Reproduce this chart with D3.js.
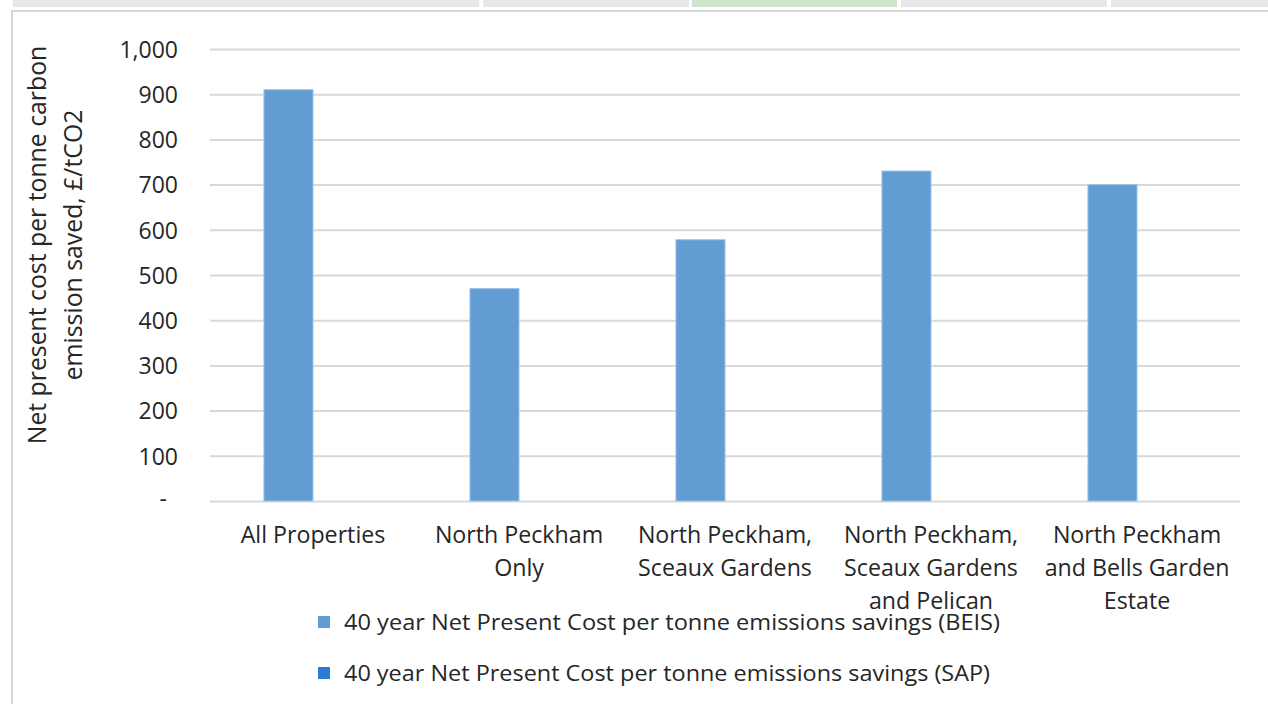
<!DOCTYPE html>
<html>
<head>
<meta charset="utf-8">
<script src="https://cdn.jsdelivr.net/npm/d3@7"></script>
<style>
  html, body { margin: 0; padding: 0; background: #ffffff; }
  svg { display: block; }
  text { font-family: "Open Sans", "Noto Sans", sans-serif; fill: #262626; }
</style>
</head>
<body>
<svg id="chart" width="1268" height="704"></svg>
<script>
// Chart data
const categories = [
  ["All Properties"],
  ["North Peckham", "Only"],
  ["North Peckham,", "Sceaux Gardens"],
  ["North Peckham,", "Sceaux Gardens", "and Pelican"],
  ["North Peckham", "and Bells Garden", "Estate"]
];
const seriesNames = [
  "40 year Net Present Cost per tonne emissions savings (BEIS)",
  "40 year Net Present Cost per tonne emissions savings (SAP)"
];
const beisValues = [910, 470, 578, 730, 700];
const sapValues = [null, null, null, null, null];
const yTicks = [0, 100, 200, 300, 400, 500, 600, 700, 800, 900, 1000];
const yTitle = ["Net present cost per tonne carbon", "emission saved, £/tCO2"];
const seriesColors = ["#619dd2", "#2b7bd3"];

const svg = d3.select("#chart");
const W = 1268, H = 704;

// Tab strip along the top edge
const tabs = [
  { x0: 13, x1: 479, c: "#e7e8ec" },
  { x0: 483, x1: 689, c: "#e7e8ec" },
  { x0: 692, x1: 897, c: "#cfe6cd" },
  { x0: 901, x1: 1107, c: "#e7e8ec" },
  { x0: 1111, x1: 1268, c: "#e7e8ec" }
];
svg.selectAll("rect.tab").data(tabs).join("rect")
  .attr("class", "tab")
  .attr("x", d => d.x0).attr("y", 0)
  .attr("width", d => d.x1 - d.x0).attr("height", 7)
  .attr("fill", d => d.c);

// Outer frame (top and left edges)
svg.append("path")
  .attr("d", `M12,${H} L12,11 L${W},11`)
  .attr("fill", "none")
  .attr("stroke", "#d6d6d6")
  .attr("stroke-width", 2);

// Plot area
const plot = { left: 210, right: 1240, top: 49, bottom: 501 };

const x0 = d3.scaleBand()
  .domain(d3.range(categories.length))
  .range([plot.left, plot.right])
  .paddingInner(0).paddingOuter(0);

const x1 = d3.scaleBand()
  .domain([0, 1])
  .range([0, x0.bandwidth()])
  .paddingInner(0)
  .paddingOuter(1.1);

const y = d3.scaleLinear()
  .domain([0, 1000])
  .range([plot.bottom, plot.top]);

// Gridlines and value labels
const yAxis = d3.axisLeft(y)
  .tickValues(yTicks)
  .tickSize(-(plot.right - plot.left))
  .tickPadding(32)
  .tickFormat(d => d === 0 ? "-" : d3.format(",")(d));

const gy = svg.append("g")
  .attr("transform", `translate(${plot.left},0)`)
  .call(yAxis);
gy.select(".domain").remove();
gy.selectAll(".tick line")
  .attr("stroke", "#d9d9d9")
  .attr("stroke-width", 2);
gy.selectAll(".tick text")
  .attr("font-size", 23)
  .attr("fill", "#262626")
  .attr("dy", "0.36em");
gy.selectAll(".tick text").filter(d => d === 0)
  .attr("dx", -11).attr("dy", "0.25em");

// Bars
const seriesData = [beisValues, sapValues];
seriesData.forEach((vals, si) => {
  svg.append("g").selectAll("rect")
    .data(vals.map((v, i) => ({ v, i })).filter(d => d.v != null))
    .join("rect")
    .attr("x", d => x0(d.i) + x1(si))
    .attr("y", d => y(d.v))
    .attr("width", x1.bandwidth())
    .attr("height", d => y(0) - y(d.v))
    .attr("fill", seriesColors[si])
    .attr("stroke", "#9cc3e6")
    .attr("stroke-width", 1);
});

// Category labels
const cat = svg.append("g");
categories.forEach((lines, i) => {
  const t = cat.append("text")
    .attr("x", x0(i) + x0.bandwidth() / 2)
    .attr("y", 543)
    .attr("text-anchor", "middle")
    .attr("font-size", 23.2);
  lines.forEach((ln, k) => {
    t.append("tspan")
      .attr("x", x0(i) + x0.bandwidth() / 2)
      .attr("dy", k === 0 ? 0 : 33)
      .text(ln);
  });
});

// Y axis title
const yt = svg.append("text")
  .attr("transform", "translate(0,245) rotate(-90)")
  .attr("text-anchor", "middle")
  .attr("font-size", 24.8);
yTitle.forEach((ln, k) => {
  yt.append("tspan")
    .attr("x", 0)
    .attr("y", k === 0 ? 46 : 82)
    .text(ln);
});

// Legend
const legend = svg.append("g");
seriesNames.forEach((name, k) => {
  const cy = 622 + k * 51;
  legend.append("rect")
    .attr("x", 318).attr("y", cy - 6)
    .attr("width", 12).attr("height", 12)
    .attr("fill", seriesColors[k]);
  legend.append("text")
    .attr("x", 344).attr("y", cy + 8)
    .attr("font-size", 21)
    .attr("textLength", k === 0 ? 656 : 646)
    .attr("lengthAdjust", "spacingAndGlyphs")
    .text(name);
});
</script>
</body>
</html>
